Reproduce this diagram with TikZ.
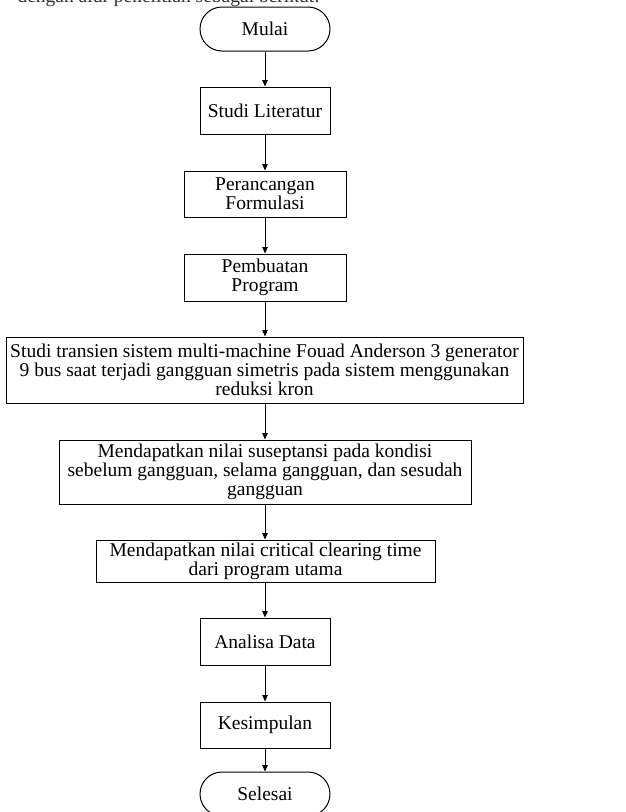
\documentclass[tikz,border=0pt]{standalone}
\usepackage{fontspec}
\setmainfont{Liberation Serif}
\usetikzlibrary{arrows.meta}
\begin{document}
\begin{tikzpicture}[x=1pt,y=-1pt,
  box/.style={draw,line width=1pt,inner sep=2pt,align=center,font=\fontsize{19.5}{19}\selectfont},
  term/.style={box,rounded corners=22pt},
  flow/.style={line width=1pt,-{Triangle[length=6.5pt,width=5.5pt]}}]
\clip (0,0) rectangle (625,812);
\fill[white] (0,0) rectangle (625,812);
\node[anchor=base west,font=\fontsize{19.5}{19}\selectfont,text=black!80] (intro) at (14,2) {dengan alur penelitian sebagai berikut:};
\node[term,minimum width=130pt,minimum height=44pt] (mulai) at (265,29) {Mulai};
\node[box,minimum width=130pt,minimum height=47pt] (lit) at (265,110.5) {Studi Literatur};
\node[box,minimum width=162pt,minimum height=46pt] (form) at (265,194) {Perancangan\\Formulasi};
\node[box,minimum width=162pt,minimum height=47pt] (prog) at (265,277.5) {Pembuatan\\Program};
\node[box,minimum width=517pt,minimum height=66pt] (studi) at (264.5,370) {Studi transien sistem multi-machine Fouad Anderson 3 generator\\9 bus saat terjadi gangguan simetris pada sistem menggunakan\\reduksi kron};
\node[box,minimum width=412pt,minimum height=64pt] (sus) at (265,472) {Mendapatkan nilai suseptansi pada kondisi\\sebelum gangguan, selama gangguan, dan sesudah\\gangguan};
\node[box,minimum width=339pt,minimum height=42pt] (cct) at (265.5,561) {Mendapatkan nilai critical clearing time\\dari program utama};
\node[box,minimum width=130pt,minimum height=47pt] (ana) at (265,641.5) {Analisa Data};
\node[box,minimum width=130pt,minimum height=46pt] (kes) at (265,725) {Kesimpulan};
\node[term,minimum width=130pt,minimum height=44pt] (sel) at (265,794) {Selesai};
\draw[flow] (mulai) -- (lit);
\draw[flow] (lit) -- (form);
\draw[flow] (form) -- (prog);
\draw[flow] (prog.south) -- (prog.south |- studi.north);
\draw[flow] (studi.south -| sus.north) -- (sus.north);
\draw[flow] (sus.south) -- (sus.south |- cct.north);
\draw[flow] (cct.south -| ana.north) -- (ana.north);
\draw[flow] (ana) -- (kes);
\draw[flow] (kes) -- (sel);
\end{tikzpicture}
\end{document}
